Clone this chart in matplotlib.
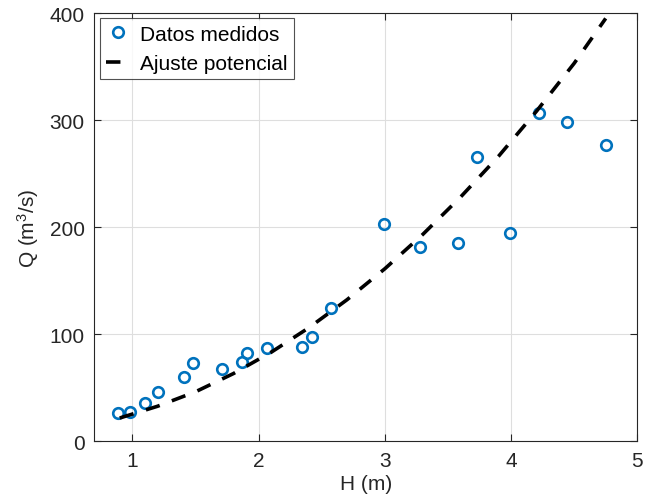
import numpy as np
import matplotlib
matplotlib.use("Agg")
import matplotlib.pyplot as plt

plt.rcParams['font.family'] = ['Liberation Sans', 'DejaVu Sans']
plt.rcParams['mathtext.fontset'] = 'custom'
plt.rcParams['mathtext.rm'] = 'Liberation Sans'
plt.rcParams['mathtext.default'] = 'regular'

# measured data
H = [0.89, 0.98, 1.10, 1.20, 1.41, 1.48, 1.71, 1.87, 1.91, 2.07,
     2.34, 2.42, 2.57, 2.99, 3.28, 3.58, 3.73, 3.99, 4.22, 4.44, 4.75]
Q = [26, 27, 35.5, 45.5, 60, 73, 67, 73.5, 82, 87,
     88, 97.5, 124.5, 202.5, 181, 185, 265.5, 194, 306.5, 298, 277]

# power fit curve
H_fit = [0.9, 1.2, 1.5, 1.8, 2.1, 2.4, 2.7, 3.0, 3.3, 3.6, 3.9, 4.2, 4.5, 4.75]
Q_fit = [21.5, 32.5, 46, 63, 83, 106, 132, 161, 193, 228, 266, 308, 353, 395]

blue = '#0072BD'
dark = '#262626'

fig = plt.figure(figsize=(6.45, 5.02), dpi=100)
ax = fig.add_axes([0.1465, 0.1195, 0.8415, 0.8525])

ax.plot(H, Q, 'o', color=blue, mfc='none', mew=1.9, ms=7.6, label='Datos medidos', zorder=3)
ax.plot(H_fit, Q_fit, '--', color='k', lw=2.6, dashes=(4.0, 3.6),
        dash_capstyle='butt', label='Ajuste potencial', zorder=4)

ax.set_xlim(0.7, 5)
ax.set_ylim(0, 400)
ax.set_xticks([1, 2, 3, 4, 5])
ax.set_yticks([0, 100, 200, 300, 400])
ax.grid(True, color='#dedede', lw=0.8)
ax.set_axisbelow(True)

for s in ax.spines.values():
    s.set_color(dark)
    s.set_linewidth(0.8)
ax.tick_params(direction='in', length=5, width=0.8, colors=dark, labelsize=15,
               top=True, right=True, pad=7)

ax.set_xlabel('H (m)', fontsize=15, color=dark, labelpad=3)
ax.set_ylabel('Q (m$^{3}$/s)', fontsize=15, color=dark, labelpad=6)

leg = ax.legend(loc='upper left', fontsize=15, frameon=True, fancybox=False,
                edgecolor=dark, borderpad=0.3, handlelength=1.2, handletextpad=0.45,
                labelspacing=0.5, borderaxespad=0.25)
leg.get_frame().set_linewidth(0.8)
for t in leg.get_texts():
    t.set_color('k')

fig.savefig('out.png', dpi=100)
